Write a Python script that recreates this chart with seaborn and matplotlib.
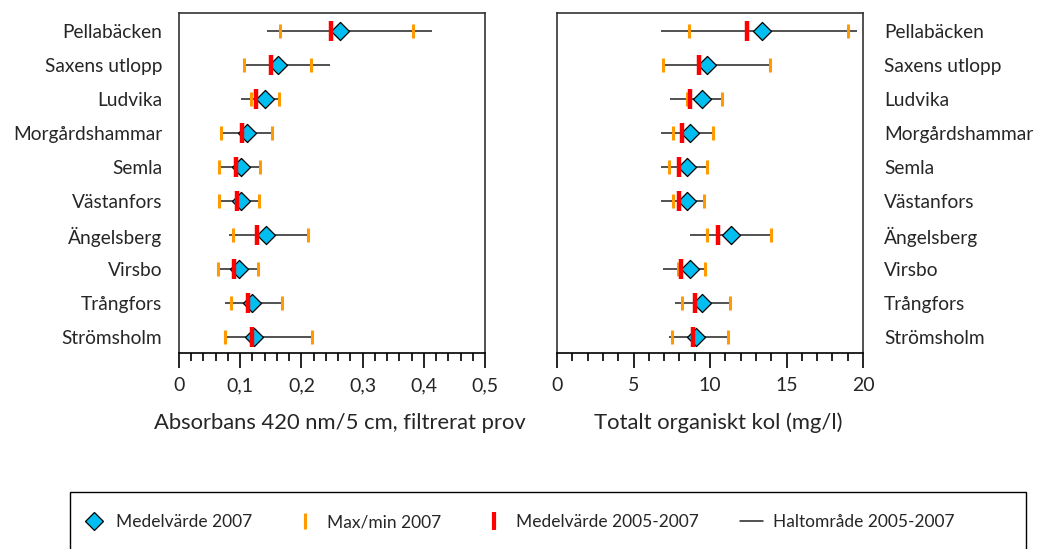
import numpy as np
import pandas as pd
import matplotlib
matplotlib.use("Agg")
import matplotlib.pyplot as plt
import seaborn as sns
from matplotlib.lines import Line2D
from matplotlib.patches import Rectangle
from matplotlib.ticker import FuncFormatter, MultipleLocator

stations = ["Pellabäcken", "Saxens utlopp", "Ludvika", "Morgårdshammar", "Semla",
            "Västanfors", "Ängelsberg", "Virsbo", "Trångfors", "Strömsholm"]

# Absorbans 420 nm/5 cm
abs_mean07 = [0.263, 0.161, 0.141, 0.111, 0.101, 0.101, 0.142, 0.098, 0.120, 0.123]
abs_min07 = [0.165, 0.106, 0.117, 0.069, 0.066, 0.066, 0.089, 0.064, 0.085, 0.075]
abs_max07 = [0.383, 0.216, 0.163, 0.152, 0.133, 0.131, 0.211, 0.129, 0.169, 0.217]
abs_mean0507 = [0.249, 0.151, 0.125, 0.103, 0.093, 0.094, 0.128, 0.090, 0.113, 0.120]
abs_rmin = [0.143, 0.106, 0.101, 0.069, 0.063, 0.066, 0.081, 0.064, 0.075, 0.075]
abs_rmax = [0.413, 0.247, 0.163, 0.152, 0.133, 0.131, 0.211, 0.129, 0.169, 0.217]

# Totalt organiskt kol (mg/l)
toc_mean07 = [13.4, 9.8, 9.5, 8.7, 8.5, 8.5, 11.4, 8.7, 9.5, 9.1]
toc_min07 = [8.6, 6.9, 8.5, 7.6, 7.3, 7.6, 9.8, 7.9, 8.2, 7.5]
toc_max07 = [19.0, 13.9, 10.8, 10.2, 9.8, 9.6, 14.0, 9.7, 11.3, 11.2]
toc_mean0507 = [12.4, 9.3, 8.7, 8.2, 8.0, 8.0, 10.5, 8.1, 9.0, 8.9]
toc_rmin = [6.8, 6.9, 7.4, 6.8, 6.8, 6.8, 8.7, 6.9, 7.7, 7.3]
toc_rmax = [19.6, 13.9, 10.8, 10.2, 9.8, 9.6, 14.0, 9.7, 11.3, 11.2]

legend_labels = ["Medelvärde 2007", "Max/min 2007", "Medelvärde 2005-2007", "Haltområde 2005-2007"]

CYAN = "#00BFF0"
ORANGE = "#FF9A00"
RED = "#FF0000"
LINE = "#222222"
FONT = ["Lato", "DejaVu Sans"]

sns.set_theme(style="white")
plt.rcParams["font.family"] = FONT
plt.rcParams["font.size"] = 13

W, H = 1038, 549
fig = plt.figure(figsize=(W / 100, H / 100), dpi=100)
axL = fig.add_axes([179 / W, 1 - 353 / H, 306 / W, 340 / H])
axR = fig.add_axes([557 / W, 1 - 353 / H, 306 / W, 340 / H])

ypos = np.arange(len(stations))


def draw(ax, mean07, mn07, mx07, mean0507, rmin, rmax):
    df = pd.DataFrame({"y": ypos, "mean07": mean07, "min07": mn07, "max07": mx07,
                       "mean0507": mean0507, "rmin": rmin, "rmax": rmax})
    ax.hlines(df["y"], df["rmin"], df["rmax"], color=LINE, lw=1.1, zorder=1)
    sns.scatterplot(data=df, x="mean07", y="y", marker="D", s=85, color=CYAN,
                    edgecolor="black", linewidth=0.9, ax=ax, zorder=3, legend=False)
    for col in ["min07", "max07"]:
        ax.plot(df[col], df["y"], ls="none", marker="|", ms=10.5, mew=2.2,
                color=ORANGE, zorder=4)
    ax.plot(df["mean0507"], df["y"], ls="none", marker="|", ms=14.5, mew=3.2,
            color=RED, zorder=5)
    ax.set_ylim(9.47, -0.53)
    ax.set_yticks(ypos)
    ax.set_yticklabels(stations)
    ax.set_xlabel("")
    ax.set_ylabel("")
    for s in ax.spines.values():
        s.set_color("#333333")
        s.set_linewidth(1.2)
    ax.spines["bottom"].set_color("black")
    ax.tick_params(axis="x", which="major", direction="out", length=11, width=1.2,
                   color="black", bottom=True, labelsize=14, pad=6.5)
    ax.tick_params(axis="x", which="minor", direction="out", length=6, width=1.2,
                   color="black", bottom=True)


draw(axL, abs_mean07, abs_min07, abs_max07, abs_mean0507, abs_rmin, abs_rmax)
axL.set_xlim(0, 0.5)
axL.xaxis.set_major_locator(MultipleLocator(0.1))
axL.xaxis.set_minor_locator(MultipleLocator(0.02))
axL.xaxis.set_major_formatter(FuncFormatter(lambda v, p: "0" if abs(v) < 1e-9 else f"{v:.1f}".replace(".", ",")))
axL.tick_params(axis="y", left=False, right=False, labelleft=True, labelsize=13.8, pad=6)
axL.set_xlabel("Absorbans 420 nm/5 cm, filtrerat prov", fontsize=15.8)
axL.xaxis.set_label_coords(0.5 + 8 / 306, -0.176)

draw(axR, toc_mean07, toc_min07, toc_max07, toc_mean0507, toc_rmin, toc_rmax)
axR.set_xlim(0, 20)
axR.xaxis.set_major_locator(MultipleLocator(5))
axR.xaxis.set_minor_locator(MultipleLocator(1))
axR.yaxis.tick_right()
axR.tick_params(axis="y", left=False, right=False, labelleft=False, labelright=True,
                labelsize=13.8, pad=9)
axR.set_xlabel("Totalt organiskt kol (mg/l)", fontsize=15.8)
axR.xaxis.set_label_coords(0.5 + 8 / 306, -0.176)

handles = [
    Line2D([], [], ls="none", marker="D", ms=9, mfc=CYAN, mec="black", mew=0.9),
    Line2D([], [], ls="none", marker="|", ms=11, mew=2.2, color=ORANGE),
    Line2D([], [], ls="none", marker="|", ms=13, mew=3.0, color=RED),
    Line2D([], [], color=LINE, lw=1.1),
]
fig.legend(handles, legend_labels, ncol=4, loc="center", bbox_to_anchor=(0.5, 1 - 522 / H),
           frameon=False, fontsize=12.5, handlelength=1.3, handletextpad=0.6,
           columnspacing=2.4)
fig.add_artist(Rectangle((70 / W, -0.05), (1026 - 70) / W, 0.05 + (549 - 492) / H,
                         transform=fig.transFigure, fill=False, ec="black", lw=1,
                         clip_on=False))

fig.savefig("out.png", dpi=100)
